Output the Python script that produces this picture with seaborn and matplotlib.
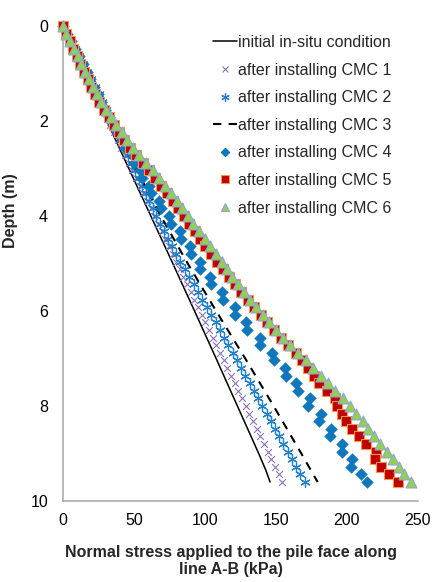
import numpy as np
import pandas as pd
import matplotlib
matplotlib.use("Agg")
import matplotlib.pyplot as plt
from matplotlib.lines import Line2D
import seaborn as sns

# ---------------- data ----------------
labels = ["initial in-situ condition", "after installing CMC 1", "after installing CMC 2",
          "after installing CMC 3", "after installing CMC 4", "after installing CMC 5",
          "after installing CMC 6"]

# depths for solid / dashed line series (m)
depth_init = [0, 1, 2, 3, 4, 5, 6, 7, 8, 9, 9.35, 9.6]
stress_init = [0, 15.5, 31.0, 46.5, 62.0, 77.5, 92.8, 108.0, 123.0, 138.0, 143.0, 146.0]

depth_cmc3 = [0, 1, 2, 3, 4, 5, 6, 7, 8, 9, 9.6]
stress_cmc3 = [0, 17.0, 34.0, 51.5, 69.0, 88.0, 108.0, 128.5, 148.5, 168.0, 179.5]

# depths of the marker series (m)
depth_pts = [0.00, 0.16, 0.32, 0.48, 0.64, 0.80, 0.96, 1.12, 1.28, 1.44, 1.60, 1.76, 1.92,
             2.08, 2.24, 2.40, 2.56, 2.72, 2.88, 3.04, 3.20, 3.36, 3.52, 3.68, 3.84, 4.00,
             4.16, 4.32, 4.48, 4.64, 4.80, 4.96, 5.12, 5.28, 5.44, 5.60, 5.76, 5.92, 6.08,
             6.24, 6.40, 6.56, 6.72, 6.88, 7.04, 7.20, 7.36, 7.52, 7.68, 7.84, 8.00, 8.16,
             8.32, 8.48, 8.64, 8.80, 8.96, 9.12, 9.28, 9.44, 9.60]

stress_cmc1 = [0.0, 2.6, 5.2, 7.7, 10.3, 12.9, 15.5, 18.0, 20.6, 23.2, 25.8, 28.3, 30.9,
               33.5, 36.1, 38.6, 41.2, 43.8, 46.4, 48.9, 51.5, 54.1, 56.7, 59.2, 61.8, 64.4,
               67.0, 69.6, 72.1, 74.7, 77.3, 79.9, 82.4, 85.0, 87.6, 90.2, 92.7, 95.3, 97.9,
               100.5, 103.0, 105.6, 108.2, 110.8, 113.3, 115.9, 118.5, 121.1, 123.6, 126.2,
               128.8, 131.4, 134.0, 136.5, 139.1, 141.7, 144.3, 146.8, 149.4, 152.0, 154.6]

stress_cmc2 = [0.0, 2.9, 5.8, 8.6, 11.5, 14.4, 17.3, 20.0, 22.6, 25.3, 27.9, 30.5, 33.2,
               35.8, 38.3, 40.9, 43.5, 46.0, 48.6, 51.1, 53.6, 56.1, 58.6, 61.0, 63.5, 66.0,
               68.8, 71.6, 74.4, 77.2, 80.0, 82.8, 85.8, 89.0, 92.1, 95.2, 98.3, 101.4, 104.5,
               107.6, 110.6, 113.6, 116.7, 119.7, 122.7, 125.7, 128.7, 131.6, 134.6, 137.5,
               140.5, 143.5, 146.4, 149.4, 152.3, 155.3, 158.3, 161.3, 164.4, 167.4, 170.5]

stress_cmc4 = [0.0, 2.8, 5.6, 8.4, 11.2, 14.0, 16.8, 19.4, 22.0, 24.5, 27.1, 29.7, 32.2,
               35.1, 38.3, 41.5, 44.0, 48.5, 50.0, 54.5, 56.0, 61.0, 62.0, 67.8, 69.2, 74.5,
               76.0, 82.5, 83.5, 89.5, 90.0, 96.5, 97.0, 104.0, 104.5, 112.0, 113.0, 121.5,
               121.0, 129.0, 129.5, 138.8, 139.0, 147.5, 148.5, 156.5, 157.0, 164.5, 165.5,
               174.0, 172.8, 182.0, 180.5, 189.0, 188.5, 197.0, 196.5, 204.0, 203.0, 210.0,
               214.0]

stress_cmc5 = [0.0, 2.4, 4.9, 7.4, 9.9, 12.4, 15.0, 17.6, 20.2, 22.9, 25.8, 28.9, 32.2,
               35.9, 39.7, 43.4, 47.2, 51.8, 56.5, 61.0, 65.3, 69.5, 73.6, 77.6, 81.5, 85.2,
               89.0, 92.8, 96.6, 100.4, 104.3, 108.5, 112.6, 117.2, 121.5, 125.8, 130.5, 134.8,
               139.5, 144.0, 149.0, 153.8, 158.8, 164.0, 168.5, 172.5, 177.0, 180.8, 186.0,
               191.5, 193.0, 196.5, 199.8, 204.0, 208.5, 213.5, 220.5, 219.8, 224.0, 229.5,
               236.0]

stress_cmc6 = [0.0, 2.6, 5.2, 7.8, 10.4, 13.0, 15.6, 18.3, 21.0, 23.8, 27.0, 30.3, 33.8,
               37.7, 41.6, 45.4, 49.2, 54.0, 58.8, 63.4, 67.8, 72.0, 76.2, 80.2, 84.2, 88.0,
               92.0, 96.0, 100.0, 104.0, 108.2, 112.0, 115.5, 119.5, 123.5, 127.8, 132.0, 136.3,
               141.0, 145.5, 150.3, 155.3, 160.4, 165.5, 171.0, 176.5, 181.8, 186.8, 192.0,
               197.5, 202.2, 206.8, 211.2, 215.3, 219.5, 223.5, 228.3, 232.5, 236.8, 240.7,
               245.0]

x_ticks = [0, 50, 100, 150, 200, 250]
y_ticks = [0, 2, 4, 6, 8, 10]

# ---------------- style ----------------
sns.set_theme(style="white")
plt.rcParams["font.family"] = ["Liberation Sans", "DejaVu Sans"]

C_CMC1 = "#8D73B9"
C_CMC2 = "#2380CC"
C_CMC4 = "#0E77BD"
C_SQ_FACE = "#C00000"
C_SQ_EDGE = "#F79646"
C_TRI_FACE = "#92D050"
C_TRI_EDGE = "#8FA5DA"
GRAY = "#A6A6A6"
DASH = (0, (4, 3.5))
ASTER = (6, 2, 0)

fig = plt.figure(figsize=(4.37, 5.82), dpi=100)
ax = fig.add_axes([0.1437, 0.1392, 0.8121, 0.8162])

# initial in-situ
sns.lineplot(x=stress_init, y=depth_init, orient="y", estimator=None, color="black",
             linewidth=1.1, ax=ax, zorder=3)
# CMC 1
sns.scatterplot(x=stress_cmc1, y=depth_pts, marker="x", s=24, color=C_CMC1,
                linewidth=0.8, ax=ax, zorder=4, clip_on=False)
# CMC 2
sns.scatterplot(x=stress_cmc2, y=depth_pts, marker=ASTER, s=46, color=C_CMC2,
                linewidth=0.9, ax=ax, zorder=5, clip_on=False)
# CMC 3 (dashed)
sns.lineplot(x=stress_cmc3, y=depth_cmc3, orient="y", estimator=None, color="black",
             linewidth=1.5, linestyle=DASH, ax=ax, zorder=6)
# CMC 4
sns.scatterplot(x=stress_cmc4, y=depth_pts, marker="D", s=36, color=C_CMC4,
                edgecolor=C_CMC4, linewidth=0.3, ax=ax, zorder=7, clip_on=False)
# CMC 5
sns.scatterplot(x=stress_cmc5, y=depth_pts, marker="s", s=42, color=C_SQ_FACE,
                edgecolor=C_SQ_EDGE, linewidth=0.8, ax=ax, zorder=8, clip_on=False)
# CMC 6
sns.scatterplot(x=stress_cmc6, y=depth_pts, marker="^", s=62, color=C_TRI_FACE,
                edgecolor=C_TRI_EDGE, linewidth=0.8, ax=ax, zorder=9, clip_on=False)

# axes
ax.set_xlim(0, 250)
ax.set_ylim(10, 0)
ax.set_xticks(x_ticks)
ax.set_yticks(y_ticks)
ax.set_xticklabels([str(v) for v in x_ticks])
ax.set_yticklabels([str(v) for v in y_ticks])
for side in ["top", "right"]:
    ax.spines[side].set_visible(False)
for side in ["left", "bottom"]:
    ax.spines[side].set_color(GRAY)
    ax.spines[side].set_linewidth(1.1)
ax.tick_params(axis="x", direction="in", length=3.6, width=1.0, color=GRAY,
               labelsize=11.5, pad=9, labelcolor="black")
ax.tick_params(axis="y", direction="out", length=3.6, width=1.0, color=GRAY,
               labelsize=11.5, pad=7, labelcolor="black")
ax.grid(False)

ax.set_xlabel("Normal stress applied to the pile face along\nline A-B (kPa)",
              fontsize=11.5, fontweight="bold", linespacing=1.2)
ax.xaxis.set_label_coords(0.473, -0.092)
ax.set_ylabel("Depth (m)", fontsize=11.5, fontweight="bold")
ax.yaxis.set_label_coords(-0.126, 0.611)

handles = [
    Line2D([], [], color="black", lw=1.1),
    Line2D([], [], ls="none", marker="x", color=C_CMC1, ms=4, mew=0.8),
    Line2D([], [], ls="none", marker=ASTER, color=C_CMC2, ms=6, mew=0.9),
    Line2D([], [], color="black", lw=1.5, ls=DASH),
    Line2D([], [], ls="none", marker="D", color=C_CMC4, ms=4.5),
    Line2D([], [], ls="none", marker="s", mfc=C_SQ_FACE, mec=C_SQ_EDGE, ms=5.5, mew=0.8),
    Line2D([], [], ls="none", marker="^", mfc=C_TRI_FACE, mec=C_TRI_EDGE, ms=6, mew=0.8),
]
ax.legend(handles, labels, loc="upper left", bbox_to_anchor=(0.4874, 0.9400),
          bbox_transform=fig.transFigure, frameon=False, fontsize=11.5,
          handlelength=1.5, handletextpad=0.05, labelspacing=0.79,
          borderpad=0, borderaxespad=0)

fig.savefig("out.png", dpi=100)
